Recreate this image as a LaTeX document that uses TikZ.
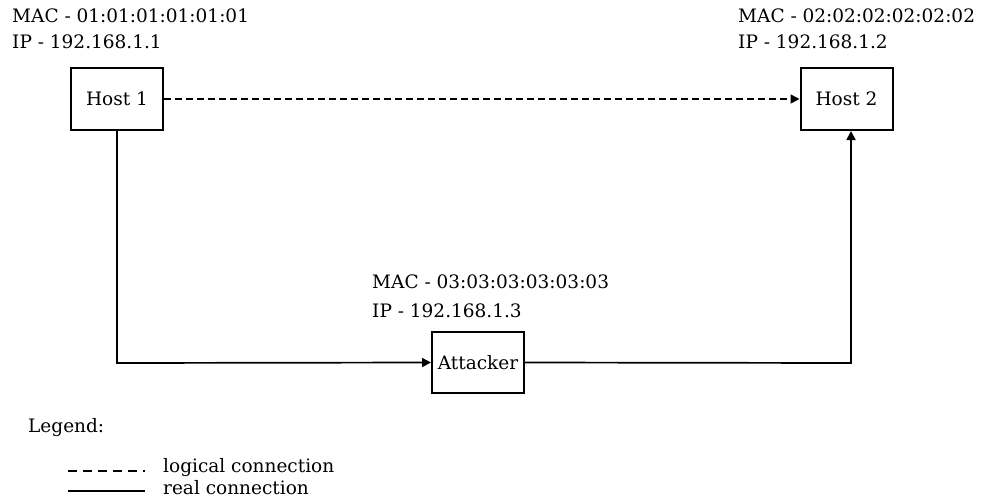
\documentclass[tikz,border=0pt]{standalone}
\usepackage{fontspec}
\setmainfont{DejaVu Serif}
\usetikzlibrary{arrows.meta}
\begin{document}
\begin{tikzpicture}[x=1pt,y=-1pt,
  lbl/.style={anchor=west,inner sep=0pt,font=\fontsize{18.5}{21}\selectfont},
  hostbox/.style={draw,line width=2pt,minimum width=92pt,minimum height=62pt,inner sep=0pt,font=\fontsize{18.5}{21}\selectfont},
  conn/.style={line width=1.7pt,-{Triangle[length=9pt,width=9pt]}},
  logic/.style={conn,dash pattern=on 7pt off 4pt}]
\useasboundingbox[fill=white] (0,0) rectangle (982,501);
% address labels
\node[lbl] (m1) at (12,16) {MAC - 01:01:01:01:01:01};
\node[lbl] (i1) at (12,42) {IP - 192.168.1.1};
\node[lbl] (m2) at (738,16) {MAC - 02:02:02:02:02:02};
\node[lbl] (i2) at (738,42) {IP - 192.168.1.2};
\node[lbl] (m3) at (372,282) {MAC - 03:03:03:03:03:03};
\node[lbl] (i3) at (372,311) {IP - 192.168.1.3};
% boxes
\node[hostbox] (h1) at (117,99) {Host 1};
\node[hostbox] (h2) at (846.5,99) {Host 2};
\node[hostbox,minimum height=61pt] (att) at (478,362.5) {Attacker};
% connectors
\draw[logic] (h1.east) -- (h2.west);
\coordinate (c1) at (117,363);
\coordinate (c2) at (851,363);
\draw[conn] (h1.south) -- (c1) -- (att.west);
\draw[conn] (att.east) -- (c2) -- (h2.south -| c2);
% legend
\node[lbl] (lg) at (28,428) {Legend:};
\coordinate (d1) at (68,471);
\coordinate (d2) at (145,471);
\coordinate (s1) at (68,491);
\coordinate (s2) at (145,491);
\draw[line width=1.7pt,dash pattern=on 9pt off 6pt] (d1) -- (d2);
\draw[line width=1.7pt] (s1) -- (s2);
\node[lbl] (lt1) at (163,468) {logical connection};
\node[lbl] (lt2) at (163,488) {real connection};
\end{tikzpicture}
\end{document}
